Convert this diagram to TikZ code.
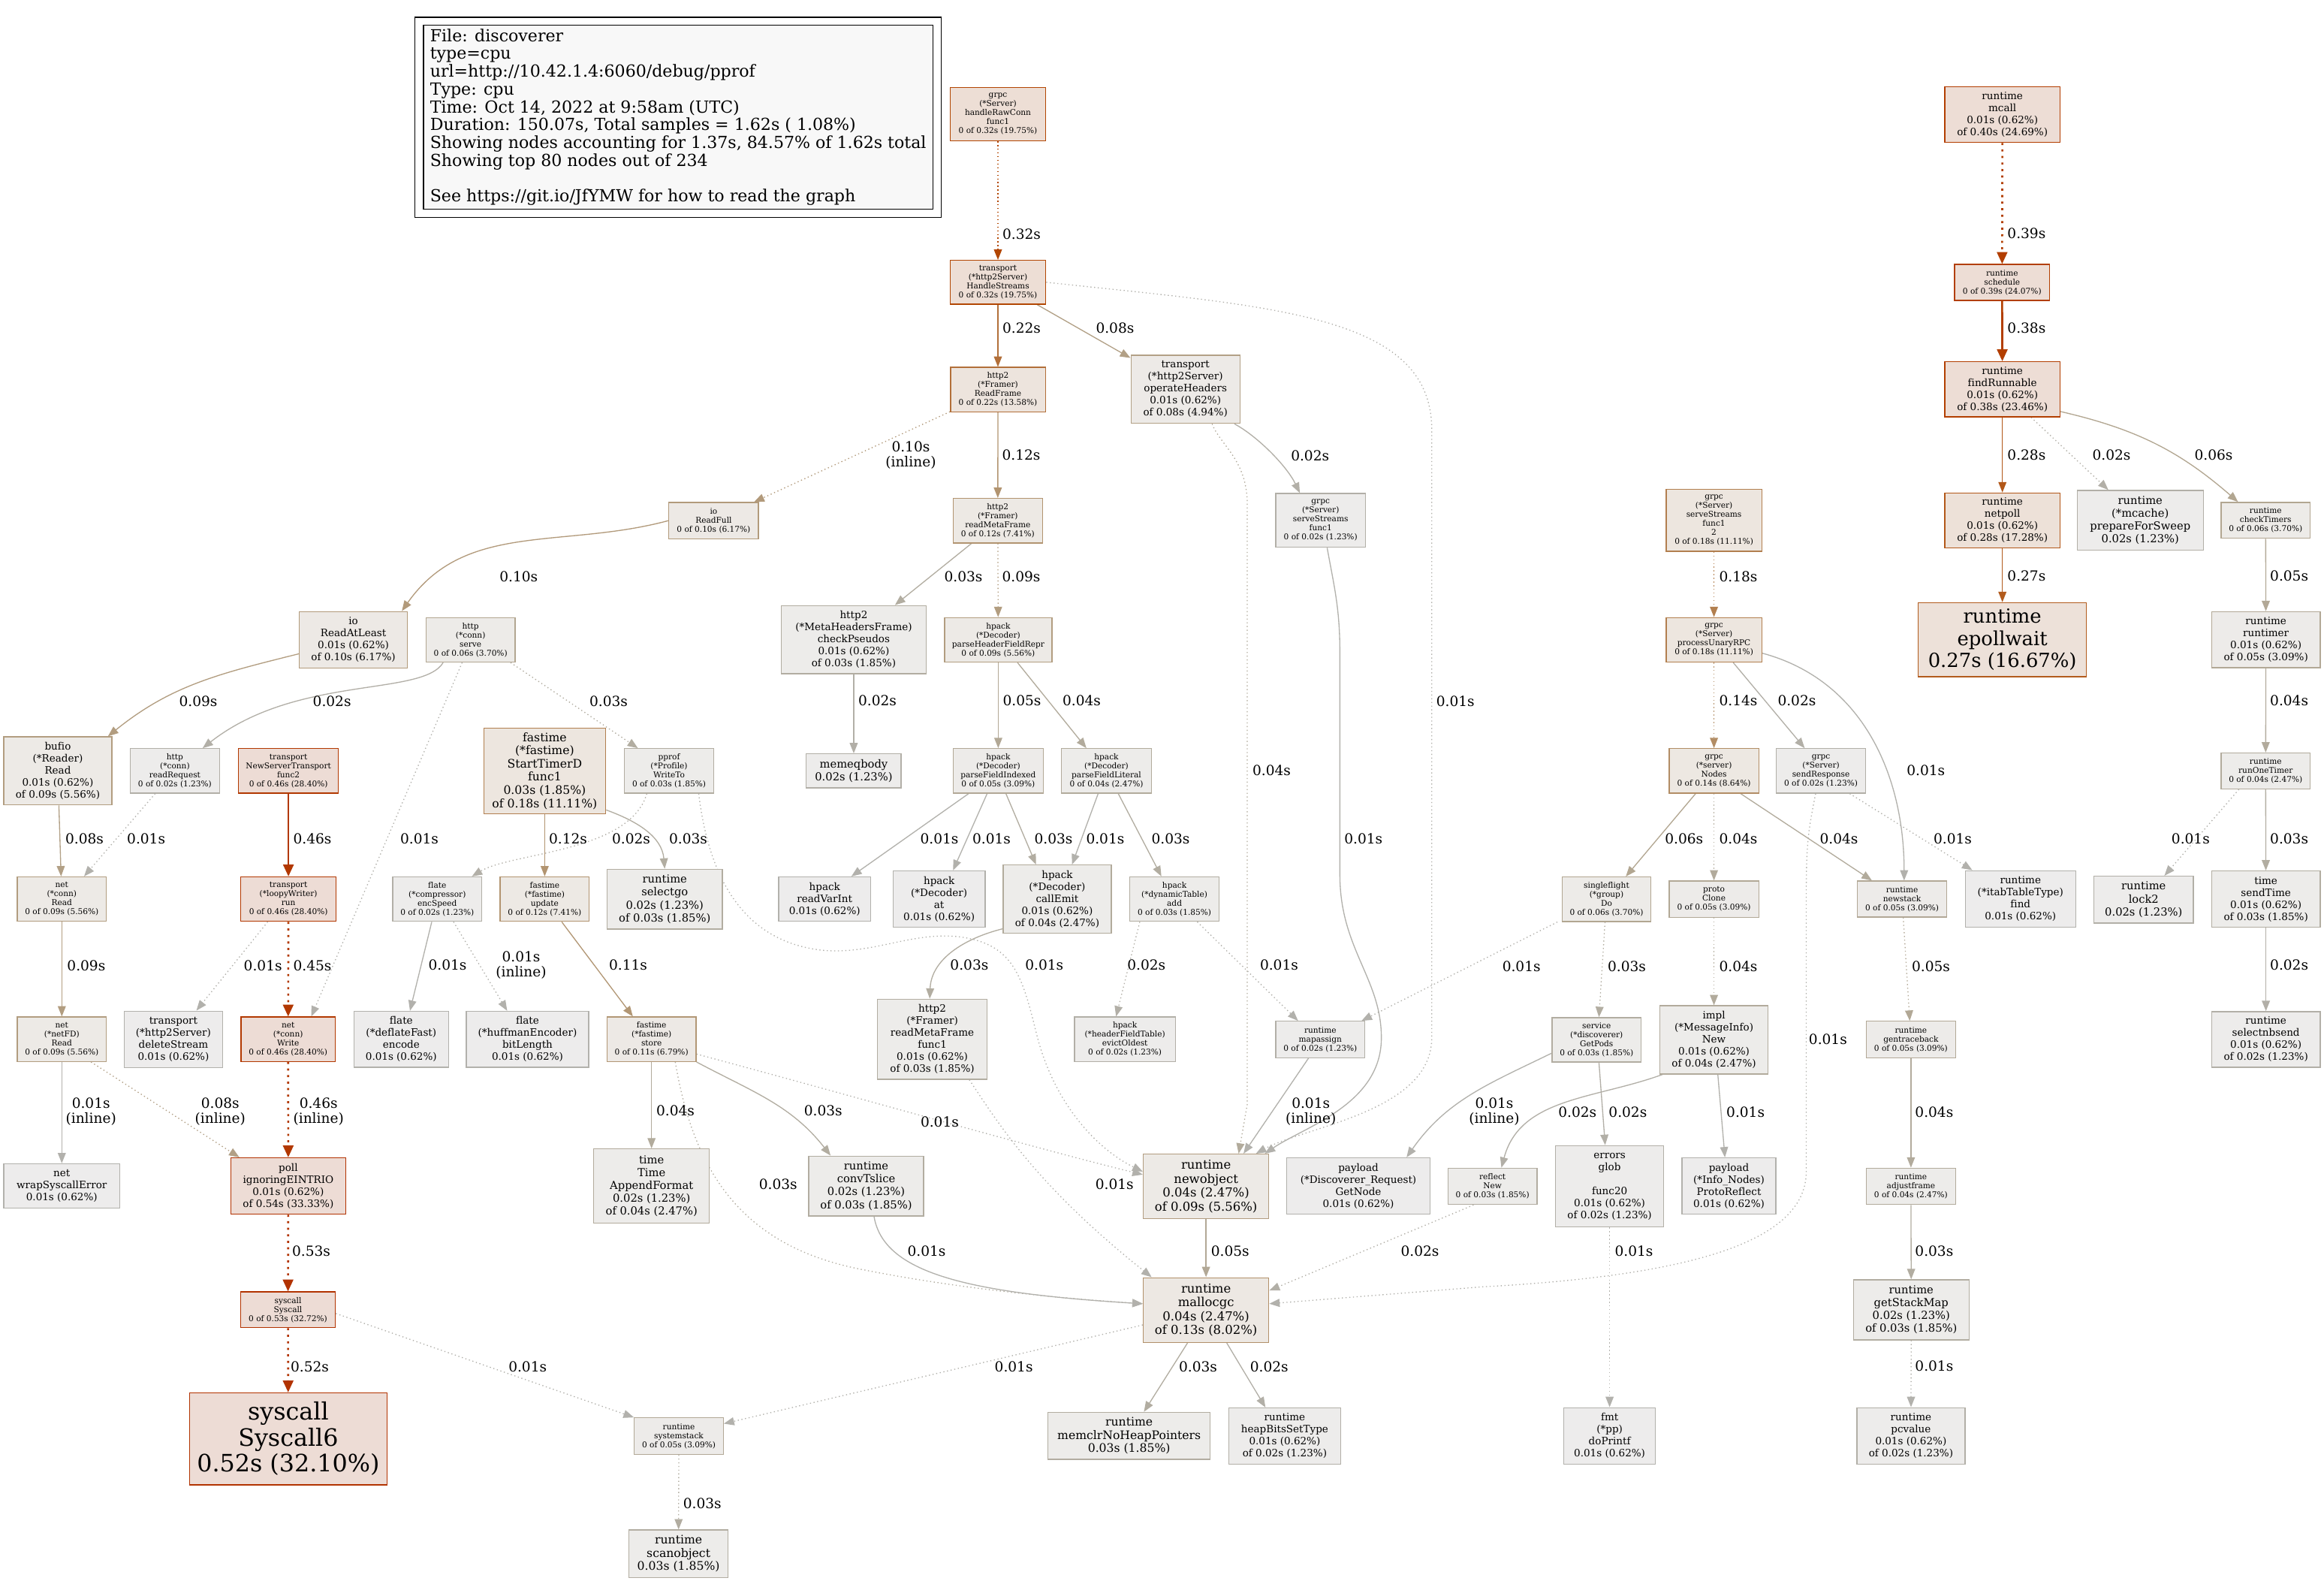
\documentclass[tikz,border=0pt]{standalone}
\usepackage{fontspec}
\setmainfont{DejaVu Serif}[Ligatures=CommonOff]
\usetikzlibrary{arrows.meta,backgrounds}
\definecolor{bg01}{RGB}{237,236,236}\definecolor{fg01}{RGB}{178,177,172}
\definecolor{bg02}{RGB}{237,236,235}\definecolor{fg02}{RGB}{178,175,167}
\definecolor{bg03}{RGB}{237,236,234}\definecolor{fg03}{RGB}{178,173,161}
\definecolor{bg04}{RGB}{237,236,234}\definecolor{fg04}{RGB}{178,171,156}
\definecolor{bg05}{RGB}{237,235,233}\definecolor{fg05}{RGB}{178,168,150}
\definecolor{bg06}{RGB}{237,235,232}\definecolor{fg06}{RGB}{178,166,145}
\definecolor{bg08}{RGB}{237,234,231}\definecolor{fg08}{RGB}{178,160,134}
\definecolor{bg09}{RGB}{237,234,230}\definecolor{fg09}{RGB}{178,157,128}
\definecolor{bg10}{RGB}{237,233,229}\definecolor{fg10}{RGB}{178,154,123}
\definecolor{bg11}{RGB}{237,233,229}\definecolor{fg11}{RGB}{178,151,117}
\definecolor{bg12}{RGB}{237,233,228}\definecolor{fg12}{RGB}{178,148,112}
\definecolor{bg13}{RGB}{237,232,227}\definecolor{fg13}{RGB}{178,144,106}
\definecolor{bg14}{RGB}{237,232,226}\definecolor{fg14}{RGB}{178,141,101}
\definecolor{bg18}{RGB}{237,230,223}\definecolor{fg18}{RGB}{178,127,79}
\definecolor{bg22}{RGB}{237,228,221}\definecolor{fg22}{RGB}{178,111,57}
\definecolor{bg27}{RGB}{237,225,217}\definecolor{fg27}{RGB}{178,91,29}
\definecolor{bg28}{RGB}{237,225,216}\definecolor{fg28}{RGB}{178,87,24}
\definecolor{bg32}{RGB}{237,222,213}\definecolor{fg32}{RGB}{178,70,2}
\definecolor{bg38}{RGB}{237,221,213}\definecolor{fg38}{RGB}{178,62,0}
\definecolor{bg39}{RGB}{237,221,213}\definecolor{fg39}{RGB}{178,62,0}
\definecolor{bg40}{RGB}{237,221,213}\definecolor{fg40}{RGB}{178,61,0}
\definecolor{fg45}{RGB}{178,56,0}
\definecolor{bg46}{RGB}{237,220,213}\definecolor{fg46}{RGB}{178,56,0}
\definecolor{bg52}{RGB}{237,220,213}\definecolor{fg52}{RGB}{178,51,0}
\definecolor{bg53}{RGB}{237,220,213}\definecolor{fg53}{RGB}{178,50,0}
\definecolor{bg54}{RGB}{237,220,213}\definecolor{fg54}{RGB}{178,50,0}
\definecolor{legbg}{RGB}{248,248,248}
\newcommand\fsA{\fontsize{5.36}{6.08}\selectfont}
\newcommand\fsB{\fontsize{6.85}{8.1}\selectfont}
\newcommand\fsC{\fontsize{7.45}{8.7}\selectfont}
\newcommand\fsD{\fontsize{7.93}{8.9}\selectfont}
\newcommand\fsE{\fontsize{8.33}{9.37}\selectfont}
\newcommand\fsF{\fontsize{13.1}{15}\selectfont}
\newcommand\fsG{\fontsize{16.1}{17.5}\selectfont}
\newcommand\fsL{\fontsize{9.4}{10.1}\selectfont}
\newcommand\fsLeg{\fontsize{11.2}{12}\selectfont}
\tikzset{
  nd/.style={draw, rectangle, line width=0.67pt, inner sep=0pt, align=center},
  clr/.style={fill=bg#1, draw=fg#1},
  wh/.style 2 args={minimum width=#1pt, minimum height=#2pt},
  lbl/.style={inner sep=0pt, align=center, font=\fsL},
  ed/.style={-{Triangle[length=7pt,width=5.4pt]}, line width=0.67pt},
  edk/.style={-{Triangle[length=8pt,width=7pt]}, line width=1.34pt},
  dt/.style={dash pattern=on 0.7pt off 1.8pt},
  dtk/.style={dash pattern=on 1.4pt off 3pt},
}
\begin{document}
\begin{tikzpicture}[x=1pt,y=-1pt]
\useasboundingbox (0,0) rectangle (1568,1066.4);
% legend
\node[nd, draw=black, fill=legbg, minimum width=343.6pt, minimum height=124pt, align=left, font=\fsLeg] (lg) at (457.6,79) {File: discoverer\\type=cpu\\url=http://10.42.1.4:6060/debug/pprof\\Type: cpu\\Time: Oct 14, 2022 at 9:58am (UTC)\\Duration: 150.07s, Total samples = 1.62s ( 1.08\%)\\Showing nodes accounting for 1.37s, 84.57\% of 1.62s total\\Showing top 80 nodes out of 234\\\mbox{}\\See https://git.io/JfYMW for how to read the graph};
\draw[line width=0.67pt] ([shift={(-5.4,-5)}]lg.north west) rectangle ([shift={(5.4,5.4)}]lg.south east);
% row 1-3
\node[nd,clr=32,wh={64.5}{36},font=\fsA] (hrc) at (673.3,77) {grpc\\(*Server)\\handleRawConn\\func1\\0 of 0.32s (19.75\%)};
\node[nd,clr=40,wh={77.8}{37.5},font=\fsB] (mc) at (1351,77.3) {runtime\\mcall\\0.01s (0.62\%)\\of 0.40s (24.69\%)};
\node[nd,clr=32,wh={64.5}{29.6},font=\fsA] (hs) at (673.3,190.4) {transport\\(*http2Server)\\HandleStreams\\0 of 0.32s (19.75\%)};
\node[nd,clr=39,wh={64.3}{24.3},font=\fsA] (sch) at (1350.8,190.5) {runtime\\schedule\\0 of 0.39s (24.07\%)};
\node[nd,clr=22,wh={64}{30},font=\fsA] (rf) at (673.3,262.8) {http2\\(*Framer)\\ReadFrame\\0 of 0.22s (13.58\%)};
\node[nd,clr=08,wh={73.5}{46},font=\fsB] (oh) at (799.8,262.6) {transport\\(*http2Server)\\operateHeaders\\0.01s (0.62\%)\\of 0.08s (4.94\%)};
\node[nd,clr=38,wh={77.8}{37.2},font=\fsB] (fr) at (1351,262.6) {runtime\\findRunnable\\0.01s (0.62\%)\\of 0.38s (23.46\%)};
% row 4
\node[nd,clr=10,wh={60.5}{24.4},font=\fsA] (irf) at (481.5,351.2) {io\\ReadFull\\0 of 0.10s (6.17\%)};
\node[nd,clr=12,wh={60.3}{30},font=\fsA] (rmf) at (673.2,351.2) {http2\\(*Framer)\\readMetaFrame\\0 of 0.12s (7.41\%)};
\node[nd,clr=02,wh={60.5}{36.2},font=\fsA] (ssf) at (891,351) {grpc\\(*Server)\\serveStreams\\func1\\0 of 0.02s (1.23\%)};
\node[nd,clr=18,wh={64.5}{41.8},font=\fsA] (ss2) at (1156.4,351) {grpc\\(*Server)\\serveStreams\\func1\\2\\0 of 0.18s (11.11\%)};
\node[nd,clr=28,wh={77.8}{37},font=\fsB] (np) at (1351,351) {runtime\\netpoll\\0.01s (0.62\%)\\of 0.28s (17.28\%)};
\node[nd,clr=02,wh={85}{40.4},font=\fsC] (pfs) at (1444,351) {runtime\\(*mcache)\\prepareForSweep\\0.02s (1.23\%)};
\node[nd,clr=06,wh={60}{24.2},font=\fsA] (ctm) at (1528.6,351) {runtime\\checkTimers\\0 of 0.06s (3.70\%)};
% row 5
\node[nd,clr=10,wh={72.8}{38},font=\fsB] (ral) at (238.4,431.5) {io\\ReadAtLeast\\0.01s (0.62\%)\\of 0.10s (6.17\%)};
\node[nd,clr=06,wh={60}{30},font=\fsA] (hsv) at (317.5,431.6) {http\\(*conn)\\serve\\0 of 0.06s (3.70\%)};
\node[nd,clr=03,wh={98}{46},font=\fsB] (cp) at (576,431.5) {http2\\(*MetaHeadersFrame)\\checkPseudos\\0.01s (0.62\%)\\of 0.03s (1.85\%)};
\node[nd,clr=09,wh={72.4}{30},font=\fsA] (pfr) at (673.5,431.6) {hpack\\(*Decoder)\\parseHeaderFieldRepr\\0 of 0.09s (5.56\%)};
\node[nd,clr=18,wh={64.5}{30},font=\fsA] (pur) at (1156.4,431.6) {grpc\\(*Server)\\processUnaryRPC\\0 of 0.18s (11.11\%)};
\node[nd,clr=27,wh={113.6}{50},font=\fsF] (ep) at (1351,431.5) {runtime\\epollwait\\0.27s (16.67\%)};
\node[nd,clr=05,wh={73.2}{37.8},font=\fsB] (rt) at (1528.8,431.5) {runtime\\runtimer\\0.01s (0.62\%)\\of 0.05s (3.09\%)};
% row 6
\node[nd,clr=09,wh={73}{46},font=\fsB] (br) at (39,520) {bufio\\(*Reader)\\Read\\0.01s (0.62\%)\\of 0.09s (5.56\%)};
\node[nd,clr=02,wh={60.3}{30},font=\fsA] (rr) at (118,520) {http\\(*conn)\\readRequest\\0 of 0.02s (1.23\%)};
\node[nd,clr=46,wh={67.5}{30},font=\fsA] (nst) at (194.6,520) {transport\\NewServerTransport\\func2\\0 of 0.46s (28.40\%)};
\node[nd,clr=18,wh={82.3}{58},font=\fsD] (std) at (367.5,520) {fastime\\(*fastime)\\StartTimerD\\func1\\0.03s (1.85\%)\\of 0.18s (11.11\%)};
\node[nd,clr=03,wh={60}{30},font=\fsA] (pw) at (451.4,520) {pprof\\(*Profile)\\WriteTo\\0 of 0.03s (1.85\%)};
\node[nd,clr=02,wh={64}{23},font=\fsC] (meq) at (576,520) {memeqbody\\0.02s (1.23\%)};
\node[nd,clr=05,wh={61}{30},font=\fsA] (pfi) at (673.5,520) {hpack\\(*Decoder)\\parseFieldIndexed\\0 of 0.05s (3.09\%)};
\node[nd,clr=04,wh={60.6}{30},font=\fsA] (pfl) at (746.5,520) {hpack\\(*Decoder)\\parseFieldLiteral\\0 of 0.04s (2.47\%)};
\node[nd,clr=14,wh={60.5}{30},font=\fsA] (nod) at (1156.4,520) {grpc\\(*server)\\Nodes\\0 of 0.14s (8.64\%)};
\node[nd,clr=02,wh={60.3}{30},font=\fsA] (sr) at (1228.6,520) {grpc\\(*Server)\\sendResponse\\0 of 0.02s (1.23\%)};
\node[nd,clr=04,wh={60}{24.2},font=\fsA] (rot) at (1528.6,520) {runtime\\runOneTimer\\0 of 0.04s (2.47\%)};
% row 7
\node[nd,clr=09,wh={60.2}{30},font=\fsA] (ncr) at (41.7,606.5) {net\\(*conn)\\Read\\0 of 0.09s (5.56\%)};
\node[nd,clr=46,wh={64.5}{30},font=\fsA] (lw) at (194.6,606.5) {transport\\(*loopyWriter)\\run\\0 of 0.46s (28.40\%)};
\node[nd,clr=02,wh={60.1}{30},font=\fsA] (es) at (295,606.5) {flate\\(*compressor)\\encSpeed\\0 of 0.02s (1.23\%)};
\node[nd,clr=12,wh={60.1}{30},font=\fsA] (up) at (367.5,606.5) {fastime\\(*fastime)\\update\\0 of 0.12s (7.41\%)};
\node[nd,clr=03,wh={77.7}{40.4},font=\fsC] (sg) at (448.5,606.5) {runtime\\selectgo\\0.02s (1.23\%)\\of 0.03s (1.85\%)};
\node[nd,clr=01,wh={62}{30},font=\fsB] (rvi) at (556.4,606.5) {hpack\\readVarInt\\0.01s (0.62\%)};
\node[nd,clr=01,wh={62}{38},font=\fsB] (hat) at (633.6,606.4) {hpack\\(*Decoder)\\at\\0.01s (0.62\%)};
\node[nd,clr=04,wh={73}{46},font=\fsB] (ce) at (713.3,606.5) {hpack\\(*Decoder)\\callEmit\\0.01s (0.62\%)\\of 0.04s (2.47\%)};
\node[nd,clr=03,wh={60.4}{30},font=\fsA] (add) at (792.4,606.5) {hpack\\(*dynamicTable)\\add\\0 of 0.03s (1.85\%)};
\node[nd,clr=06,wh={59.7}{30},font=\fsA] (sf) at (1083.9,606.6) {singleflight\\(*group)\\Do\\0 of 0.06s (3.70\%)};
\node[nd,clr=05,wh={60.5}{24.5},font=\fsA] (pc) at (1156.4,606.5) {proto\\Clone\\0 of 0.05s (3.09\%)};
\node[nd,clr=05,wh={60.3}{24.2},font=\fsA] (ns) at (1283.3,606.4) {runtime\\newstack\\0 of 0.05s (3.09\%)};
\node[nd,clr=01,wh={74.4}{38},font=\fsB] (itf) at (1363.2,606.3) {runtime\\(*itabTableType)\\find\\0.01s (0.62\%)};
\node[nd,clr=02,wh={67}{31.5},font=\fsC] (lk) at (1446.3,606.8) {runtime\\lock2\\0.02s (1.23\%)};
\node[nd,clr=03,wh={73.2}{38},font=\fsB] (stm) at (1528.8,606.5) {time\\sendTime\\0.01s (0.62\%)\\of 0.03s (1.85\%)};
% row 8
\node[nd,clr=09,wh={60.1}{30},font=\fsA] (nfd) at (41.7,701) {net\\(*netFD)\\Read\\0 of 0.09s (5.56\%)};
\node[nd,clr=01,wh={66.5}{38},font=\fsB] (ds) at (117,701) {transport\\(*http2Server)\\deleteStream\\0.01s (0.62\%)};
\node[nd,clr=46,wh={63.7}{30},font=\fsA] (ncw) at (194.4,701) {net\\(*conn)\\Write\\0 of 0.46s (28.40\%)};
\node[nd,clr=01,wh={63.8}{37.7},font=\fsB] (df) at (270.7,701) {flate\\(*deflateFast)\\encode\\0.01s (0.62\%)};
\node[nd,clr=01,wh={82.5}{37.7},font=\fsB] (bl) at (355.9,701) {flate\\(*huffmanEncoder)\\bitLength\\0.01s (0.62\%)};
\node[nd,clr=11,wh={60}{30},font=\fsA] (st) at (439.6,701) {fastime\\(*fastime)\\store\\0 of 0.11s (6.79\%)};
\node[nd,clr=03,wh={74}{54},font=\fsB] (rmff) at (629,701) {http2\\(*Framer)\\readMetaFrame\\func1\\0.01s (0.62\%)\\of 0.03s (1.85\%)};
\node[nd,clr=02,wh={68}{30},font=\fsA] (eo) at (759,701) {hpack\\(*headerFieldTable)\\evictOldest\\0 of 0.02s (1.23\%)};
\node[nd,clr=02,wh={60}{24.6},font=\fsA] (ma) at (890.8,701.2) {runtime\\mapassign\\0 of 0.02s (1.23\%)};
\node[nd,clr=03,wh={60}{30},font=\fsA] (gp) at (1077.2,701.4) {service\\(*discoverer)\\GetPods\\0 of 0.03s (1.85\%)};
\node[nd,clr=04,wh={73}{46},font=\fsB] (imn) at (1156.4,701.4) {impl\\(*MessageInfo)\\New\\0.01s (0.62\%)\\of 0.04s (2.47\%)};
\node[nd,clr=05,wh={60.3}{24.6},font=\fsA] (gtb) at (1289.3,701.2) {runtime\\gentraceback\\0 of 0.05s (3.09\%)};
\node[nd,clr=02,wh={73.2}{37.5},font=\fsB] (snb) at (1528.8,701.1) {runtime\\selectnbsend\\0.01s (0.62\%)\\of 0.02s (1.23\%)};
% row 9
\node[nd,clr=01,wh={78.2}{30},font=\fsB] (wse) at (41.7,800) {net\\wrapSyscallError\\0.01s (0.62\%)};
\node[nd,clr=54,wh={77.6}{38},font=\fsB] (poll) at (194.5,800) {poll\\ignoringEINTRIO\\0.01s (0.62\%)\\of 0.54s (33.33\%)};
\node[nd,clr=04,wh={77.9}{50},font=\fsC] (taf) at (439.6,800) {time\\Time\\AppendFormat\\0.02s (1.23\%)\\of 0.04s (2.47\%)};
\node[nd,clr=03,wh={77.5}{40.4},font=\fsC] (cts) at (584.4,800) {runtime\\convTslice\\0.02s (1.23\%)\\of 0.03s (1.85\%)};
\node[nd,clr=09,wh={84.7}{43.6},font=\fsE] (no) at (813.7,800.3) {runtime\\newobject\\0.04s (2.47\%)\\of 0.09s (5.56\%)};
\node[nd,clr=01,wh={96.6}{38},font=\fsB] (gn) at (916.5,800) {payload\\(*Discoverer\_Request)\\GetNode\\0.01s (0.62\%)};
\node[nd,clr=03,wh={60}{24.5},font=\fsA] (rn) at (1007,800.2) {reflect\\New\\0 of 0.03s (1.85\%)};
\node[nd,clr=02,wh={73}{55},font=\fsB] (eg) at (1086,800.2) {errors\\glob\\\mbox{}\\func20\\0.01s (0.62\%)\\of 0.02s (1.23\%)};
\node[nd,clr=01,wh={63.3}{38},font=\fsB] (pr) at (1166.5,800) {payload\\(*Info\_Nodes)\\ProtoReflect\\0.01s (0.62\%)};
\node[nd,clr=04,wh={60.3}{24.5},font=\fsA] (adj) at (1289.3,800.2) {runtime\\adjustframe\\0 of 0.04s (2.47\%)};
% row 10
\node[nd,clr=53,wh={64}{24.2},font=\fsA] (sc) at (194.3,883.5) {syscall\\Syscall\\0 of 0.53s (32.72\%)};
\node[nd,clr=13,wh={84.7}{43.7},font=\fsE] (mg) at (813.7,883.7) {runtime\\mallocgc\\0.04s (2.47\%)\\of 0.13s (8.02\%)};
\node[nd,clr=03,wh={78}{40.5},font=\fsC] (gsm) at (1289.5,883.5) {runtime\\getStackMap\\0.02s (1.23\%)\\of 0.03s (1.85\%)};
% row 11-12
\node[nd,clr=52,wh={133}{62},font=\fsG] (s6) at (194.5,970.5) {syscall\\Syscall6\\0.52s (32.10\%)};
\node[nd,clr=05,wh={60}{24.6},font=\fsA] (sst) at (458,968.7) {runtime\\systemstack\\0 of 0.05s (3.09\%)};
\node[nd,clr=03,wh={109.5}{31.7},font=\fsD] (mclr) at (761.8,968.5) {runtime\\memclrNoHeapPointers\\0.03s (1.85\%)};
\node[nd,clr=02,wh={75.7}{37.8},font=\fsB] (hb) at (866.8,968.6) {runtime\\heapBitsSetType\\0.01s (0.62\%)\\of 0.02s (1.23\%)};
\node[nd,clr=01,wh={62}{38},font=\fsB] (fmt) at (1086,968.5) {fmt\\(*pp)\\doPrintf\\0.01s (0.62\%)};
\node[nd,clr=02,wh={73}{38},font=\fsB] (pcv) at (1289.3,968.5) {runtime\\pcvalue\\0.01s (0.62\%)\\of 0.02s (1.23\%)};
\node[nd,clr=03,wh={66.8}{32},font=\fsD] (so) at (457.8,1048) {runtime\\scanobject\\0.03s (1.85\%)};
% edge labels
\node[lbl] (l1) at (689.3,157.9) {0.32s};
\node[lbl] (l2) at (689.3,221.5) {0.22s};
\node[lbl] (l3) at (752.3,221.5) {0.08s};
\node[lbl] (l4) at (982,472.8) {0.01s};
\node[lbl] (l5) at (1367.3,157.3) {0.39s};
\node[lbl] (l6) at (1367.3,221.4) {0.38s};
\node[lbl] (l7) at (614.5,307) {0.10s\\(inline)};
\node[lbl] (l8) at (689,307) {0.12s};
\node[lbl] (l9) at (858,519.6) {0.04s};
\node[lbl] (l10) at (883.9,307.3) {0.02s};
\node[lbl] (l11) at (1367.3,307) {0.28s};
\node[lbl] (l12) at (1424.6,307) {0.02s};
\node[lbl] (l13) at (1493.5,307) {0.06s};
\node[lbl] (l14) at (350,389) {0.10s};
\node[lbl] (l15) at (650,388.7) {0.03s};
\node[lbl] (l16) at (689,388.7) {0.09s};
\node[lbl] (l17) at (919.9,565.9) {0.01s};
\node[lbl] (l18) at (1172.8,388.8) {0.18s};
\node[lbl] (l19) at (1367.3,388.4) {0.27s};
\node[lbl] (l20) at (1544.5,388.4) {0.05s};
\node[lbl] (l21) at (133.8,472.8) {0.09s};
\node[lbl] (l22) at (224,472.8) {0.02s};
\node[lbl] (l23) at (283,565.7) {0.01s};
\node[lbl] (l24) at (410.6,472.8) {0.03s};
\node[lbl] (l25) at (592,472.7) {0.02s};
\node[lbl] (l26) at (689.5,472.7) {0.05s};
\node[lbl] (l27) at (729.8,472.7) {0.04s};
\node[lbl] (l28) at (1172.8,472.5) {0.14s};
\node[lbl] (l29) at (1212.3,472.5) {0.02s};
\node[lbl] (l30) at (1299.4,519.5) {0.01s};
\node[lbl] (l31) at (1544.5,472.4) {0.04s};
\node[lbl] (l32) at (57,565.7) {0.08s};
\node[lbl] (l33) at (98.6,565.7) {0.01s};
\node[lbl] (l34) at (210.8,565.7) {0.46s};
\node[lbl] (l35) at (383.3,565.7) {0.12s};
\node[lbl] (l36) at (464.3,565.7) {0.03s};
\node[lbl] (l37) at (425.8,565.7) {0.02s};
\node[lbl] (l38) at (704.6,651) {0.01s};
\node[lbl] (l39) at (633.8,565.7) {0.01s};
\node[lbl] (l40) at (669,565.7) {0.01s};
\node[lbl] (l41) at (710.8,565.7) {0.03s};
\node[lbl] (l42) at (745.7,565.7) {0.01s};
\node[lbl] (l43) at (789.8,565.7) {0.03s};
\node[lbl] (l44) at (1136.2,565.6) {0.06s};
\node[lbl] (l45) at (1172.8,565.6) {0.04s};
\node[lbl] (l46) at (1240.7,565.6) {0.04s};
\node[lbl] (l47) at (1317.5,565.6) {0.01s};
\node[lbl] (l48) at (1233.3,700.9) {0.01s};
\node[lbl] (l49) at (1478,565.6) {0.01s};
\node[lbl] (l50) at (1544.5,565.6) {0.03s};
\node[lbl] (l51) at (58.2,651.3) {0.09s};
\node[lbl] (l52) at (177.4,651.3) {0.01s};
\node[lbl] (l53) at (210.8,651.3) {0.45s};
\node[lbl] (l54) at (302,651) {0.01s};
\node[lbl] (l55) at (351.6,651) {0.01s\\(inline)};
\node[lbl] (l56) at (423.8,651) {0.11s};
\node[lbl] (l57) at (654,651) {0.03s};
\node[lbl] (l58) at (773.5,651) {0.02s};
\node[lbl] (l59) at (863,651) {0.01s};
\node[lbl] (l60) at (1026.5,651.8) {0.01s};
\node[lbl] (l61) at (1097.6,651.8) {0.03s};
\node[lbl] (l62) at (1172.8,651.8) {0.04s};
\node[lbl] (l63) at (1302.8,651.8) {0.05s};
\node[lbl] (l64) at (1544.5,651) {0.02s};
\node[lbl] (l65) at (61.4,749.8) {0.01s\\(inline)};
\node[lbl] (l66) at (148.6,749.8) {0.08s\\(inline)};
\node[lbl] (l67) at (214.9,749.8) {0.46s\\(inline)};
\node[lbl] (l68) at (455.7,749.4) {0.04s};
\node[lbl] (l69) at (555.4,749.4) {0.03s};
\node[lbl] (l70) at (525,799) {0.03s};
\node[lbl] (l71) at (634,757) {0.01s};
\node[lbl] (l72) at (752,799) {0.01s};
\node[lbl] (l73) at (884.4,750) {0.01s\\(inline)};
\node[lbl] (l74) at (1008.2,750) {0.01s\\(inline)};
\node[lbl] (l75) at (1098.3,750) {0.02s};
\node[lbl] (l76) at (1064.3,750) {0.02s};
\node[lbl] (l77) at (1177.7,750) {0.01s};
\node[lbl] (l78) at (1305,750) {0.04s};
\node[lbl] (l79) at (210,843.8) {0.53s};
\node[lbl] (l80) at (625.2,843.9) {0.01s};
\node[lbl] (l81) at (830,843.9) {0.05s};
\node[lbl] (l82) at (958,844) {0.02s};
\node[lbl] (l83) at (1102.4,844) {0.01s};
\node[lbl] (l84) at (1305,844) {0.03s};
\node[lbl] (l85) at (209,922) {0.52s};
\node[lbl] (l86) at (356,922) {0.01s};
\node[lbl] (l87) at (684,922) {0.01s};
\node[lbl] (l88) at (808.3,922) {0.03s};
\node[lbl] (l89) at (856.3,922) {0.02s};
\node[lbl] (l90) at (1305,921.4) {0.01s};
\node[lbl] (l91) at (473.8,1014) {0.03s};
% edges
\begin{pgfonlayer}{background}
\fill[white] (0,0) rectangle (1568,1066.4);
\draw[ed,dt,draw=fg32] (hrc) -- (hs);
\draw[ed,draw=fg22] (hs) -- (rf);
\draw[ed,draw=fg08] (hs) -- (oh);
\draw[ed,dt,draw=fg01] (hs.east) .. controls (860,207) and (966,212) .. (966,290) -- (966,700) .. controls (966,750) and (880,760) .. ([xshift=-9]no.north east);
\draw[edk,dtk,draw=fg39] (mc) -- (sch);
\draw[edk,draw=fg38] (sch) -- (fr);
\draw[ed,dt,draw=fg10] (rf) -- (irf);
\draw[ed,draw=fg12] (rf) -- (rmf);
\draw[ed,dt,draw=fg04] ([xshift=18]oh.south) .. controls (823,300) and (841.5,310) .. (841.5,340) -- (841.5,745) -- ([xshift=22]no.north);
\draw[ed,draw=fg02] ([xshift=-4]oh.south east) .. controls (848,294) and (868,314) .. ([xshift=-14]ssf.north);
\draw[ed,draw=fg28] (fr) -- (np);
\draw[ed,dt,draw=fg02] ([xshift=19.4]fr.south) -- ([xshift=-21.5]pfs.north);
\draw[ed,draw=fg06] ([yshift=-15]fr.east) to[bend left=14] ([xshift=-18.6]ctm.north);
\draw[ed,draw=fg10] (irf.west) to[out=195,in=55] ([xshift=-4]ral.north east);
\draw[ed,draw=fg03] ([xshift=-17.7]rmf.south) -- ([xshift=27.8]cp.north);
\draw[ed,dt,draw=fg09] (rmf) -- (pfr);
\draw[ed,draw=fg01] ([xshift=4.4]ssf.south) .. controls (900,395) and (904,410) .. (904,440) -- (904,590) .. controls (904,640) and (932,660) .. (932,700) .. controls (932,745) and (880,760) .. ([xshift=-3]no.north east);
\draw[ed,dt,draw=fg18] (ss2) -- (pur);
\draw[ed,draw=fg27] (np) -- (ep);
\draw[ed,draw=fg05] (ctm) -- (rt);
\draw[ed,draw=fg09] ([yshift=-9.5]ral.west) to[out=194,in=39] ([xshift=-3]br.north east);
\draw[ed,draw=fg02] ([xshift=-18.5]hsv.south) .. controls (285,470) and (200,455) .. ([xshift=18.7]rr.north);
\draw[ed,dt,draw=fg01] ([xshift=-5.7]hsv.south) -- ([xshift=15.6]ncw.north);
\draw[ed,dt,draw=fg03] ([xshift=27]hsv.south) -- ([xshift=-21]pw.north);
\draw[ed,draw=fg02] (cp) -- (meq);
\draw[ed,draw=fg05] (pfr) -- (pfi);
\draw[ed,draw=fg04] ([xshift=13]pfr.south) -- ([xshift=-13.5]pfl.north);
\draw[ed,dt,draw=fg14] (pur) -- (nod);
\draw[ed,draw=fg02] ([xshift=13]pur.south) -- ([xshift=-11]sr.north);
\draw[ed,draw=fg01] ([yshift=-9]pur.east) to[out=-15,in=90] ([xshift=1.4]ns.north);
\draw[ed,draw=fg04] (rt) -- (rot);
\draw[ed,draw=fg08] (br) -- (ncr);
\draw[ed,dt,draw=fg01] ([xshift=-13.3]rr.south) -- ([xshift=15]ncr.north);
\draw[edk,draw=fg46] (nst) -- (lw);
\draw[ed,draw=fg12] (std) -- (up);
\draw[ed,draw=fg03] ([yshift=3]std.south east) to[out=-20,in=95] (sg.north);
\draw[ed,dt,draw=fg02] ([xshift=-15]pw.south) .. controls (425,575) and (345,575) .. ([xshift=23.4]es.north);
\draw[ed,dt,draw=fg01] ([xshift=20]pw.south) .. controls (478,590) and (500,635) .. (555,641) .. controls (590,644) and (615,628) .. (648,632) .. controls (685,637) and (690,660) .. (700,700) .. controls (712,745) and (740,775) .. ([yshift=10]no.west);
\draw[ed,draw=fg01] ([xshift=-20]pfi.south) -- ([xshift=18]rvi.north);
\draw[ed,draw=fg01] ([xshift=-7.5]pfi.south) -- ([xshift=9.4]hat.north);
\draw[ed,draw=fg03] ([xshift=5.2]pfi.south) -- ([xshift=-14.3]ce.north);
\draw[ed,draw=fg01] ([xshift=-5.6]pfl.south) -- ([xshift=10]ce.north);
\draw[ed,draw=fg03] ([xshift=8]pfl.south) -- ([xshift=-8.8]add.north);
\draw[ed,draw=fg06] ([xshift=-12.4]nod.south) -- ([xshift=13]sf.north);
\draw[ed,dt,draw=fg04] (nod) -- (pc);
\draw[ed,draw=fg04] ([xshift=18]nod.south) -- ([xshift=-20.3]ns.north);
\draw[ed,dt,draw=fg01] ([xshift=19.4]sr.south) -- ([xshift=-32.5]itf.north);
\draw[ed,dt,draw=fg01] ([xshift=-3.6]sr.south) .. controls (1220,560) and (1218.7,570) .. (1218.7,600) -- (1218.7,790) .. controls (1218.7,835) and (1150,860) .. (1000,868) -- ([yshift=4.3]mg.east);
\draw[ed,dt,draw=fg01] ([xshift=-18]rot.south) -- ([xshift=14]lk.north);
\draw[ed,draw=fg03] (rot) -- (stm);
\draw[ed,draw=fg09] (ncr) -- (nfd);
\draw[ed,dt,draw=fg01] ([xshift=-14]lw.south) -- ([xshift=15.5]ds.north);
\draw[edk,dtk,draw=fg45] (lw) -- (ncw);
\draw[ed,draw=fg01] ([xshift=-3.7]es.south) -- ([xshift=5.9]df.north);
\draw[ed,dt,draw=fg01] ([xshift=11]es.south) -- ([xshift=-13.7]bl.north);
\draw[ed,draw=fg11] ([xshift=11.5]up.south) -- ([xshift=-12.6]st.north);
\draw[ed,draw=fg03] ([yshift=-20]ce.west) to[out=194,in=88] ([xshift=-1.7]rmff.north);
\draw[ed,dt,draw=fg02] ([xshift=-23.4]add.south) -- ([xshift=-6]eo.north);
\draw[ed,dt,draw=fg01] ([xshift=15.4]add.south) -- ([xshift=-15]ma.north);
\draw[ed,dt,draw=fg01] ([xshift=-3]sf.south west) -- ([xshift=-2.5]ma.north east);
\draw[ed,dt,draw=fg03] ([xshift=-1]sf.south) -- ([xshift=1.6]gp.north);
\draw[ed,dt,draw=fg04] (pc) -- (imn);
\draw[ed,dt,draw=fg05] (ns) -- (gtb);
\draw[ed,draw=fg02] (stm) -- (snb);
\draw[ed,draw=fg01] (nfd) -- (wse);
\draw[ed,dt,draw=fg08] ([xshift=19.7]nfd.south) -- ([xshift=-33]poll.north);
\draw[edk,dtk,draw=fg46] (ncw) -- (poll);
\draw[ed,draw=fg04] (st) -- (taf);
\draw[ed,draw=fg03] (st.south east) to[out=-28,in=128] ([xshift=-24]cts.north);
\draw[ed,dt,draw=fg03] ([xshift=16]st.south) .. controls (468,790) and (500,840) .. (580,856) .. controls (650,870) and (720,876) .. ([yshift=4.3]mg.west);
\draw[ed,dt,draw=fg01] ([yshift=-10]st.east) .. controls (560,735) and (700,775) .. ([yshift=8]no.west);
\draw[ed,dt,draw=fg01] ([xshift=25]rmff.south) .. controls (675,760) and (700,800) .. ([xshift=6]mg.north west);
\draw[ed,draw=fg01] ([xshift=-8]ma.south) -- ([xshift=25.3]no.north);
\draw[ed,draw=fg01] ([yshift=-9]gp.west) to[out=206,in=55] ([xshift=32.5]gn.north);
\draw[ed,draw=fg02] ([xshift=1.6]gp.south) -- ([xshift=-3]eg.north);
\draw[ed,draw=fg02] ([xshift=-34.6]imn.south) to[out=200,in=75] ([xshift=6]rn.north);
\draw[ed,draw=fg01] ([xshift=2.6]imn.south) -- ([xshift=-2.7]pr.north);
\draw[ed,draw=fg04] (gtb) -- (adj);
\draw[edk,dtk,draw=fg53] (poll) -- (sc);
\draw[ed,draw=fg01] ([xshift=5.3]cts.south) .. controls (596,858) and (650,872) .. ([yshift=4.3]mg.west);
\draw[ed,draw=fg05] (no) -- (mg);
\draw[ed,dt,draw=fg02] ([xshift=-12.8]rn.south) -- ([yshift=13.2]mg.east);
\draw[ed,dt,draw=fg01] (eg) -- (fmt);
\draw[ed,draw=fg03] (adj) -- (gsm);
\draw[edk,dtk,draw=fg52] (sc) -- (s6);
\draw[ed,dt,draw=fg01] ([yshift=-2.5]sc.east) -- (sst.north west);
\draw[ed,dt,draw=fg01] ([yshift=-10]mg.west) -- ([yshift=8.4]sst.east);
\draw[ed,draw=fg03] ([xshift=-12.5]mg.south) -- ([xshift=10]mclr.north);
\draw[ed,draw=fg02] ([xshift=14]mg.south) -- ([xshift=-13]hb.north);
\draw[ed,dt,draw=fg01] (gsm) -- (pcv);
\draw[ed,dt,draw=fg03] (sst) -- (so);
\end{pgfonlayer}
\end{tikzpicture}
\end{document}
